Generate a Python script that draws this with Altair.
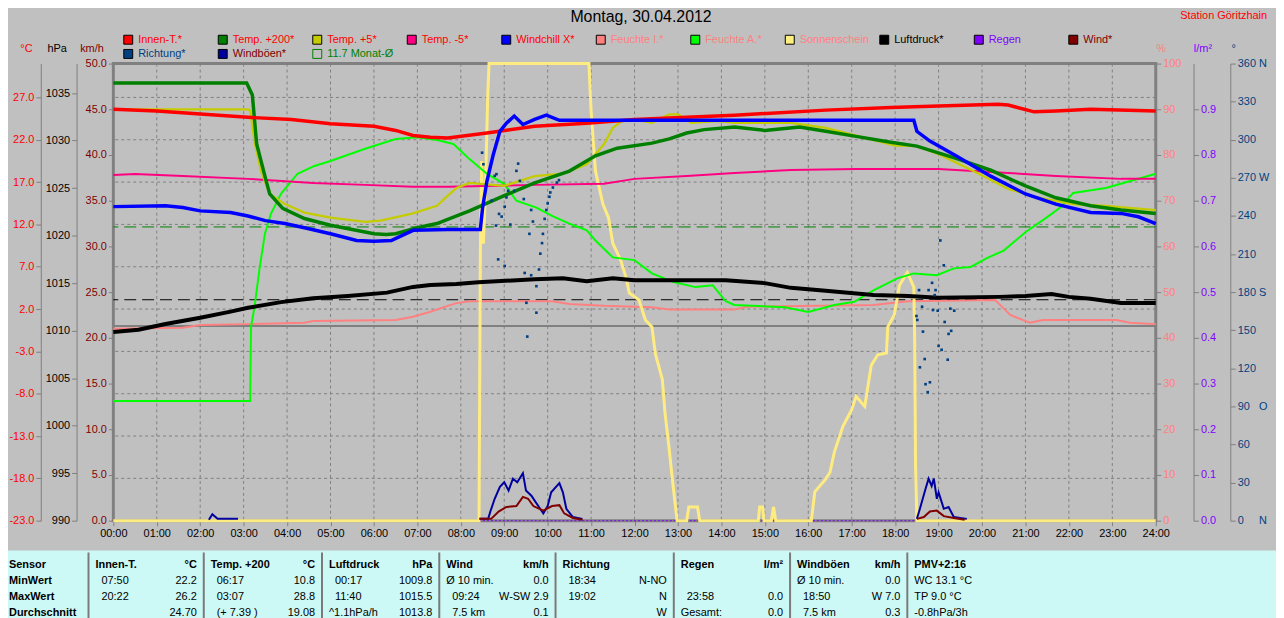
import altair as alt
import pandas as pd

FONT = "Liberation Sans"

# ------------------------------------------------------------------ data
TITLE = "Montag, 30.04.2012"
STATION = "Station Göritzhain"

HOURS = list(range(25))
C_TICKS = [-23, -18, -13, -8, -3, 2, 7, 12, 17, 22, 27]
HPA_TICKS = [990, 995, 1000, 1005, 1010, 1015, 1020, 1025, 1030, 1035]
KMH_TICKS = [0, 5, 10, 15, 20, 25, 30, 35, 40, 45, 50]
PCT_TICKS = [0, 10, 20, 30, 40, 50, 60, 70, 80, 90, 100]
RAIN_TICKS = [0.0, 0.1, 0.2, 0.3, 0.4, 0.5, 0.6, 0.7, 0.8, 0.9]
DEG_TICKS = [0, 30, 60, 90, 120, 150, 180, 210, 240, 270, 300, 330, 360]
DEG_NAMES = {0: "N", 90: "O", 180: "S", 270: "W", 360: "N"}

MONAT_MEAN = 11.7
P_NORMAL = 1013.25

innen_h = [0, 1, 2, 3.1, 4.1, 5.0, 6.0, 6.5, 6.9, 7.3, 7.7, 8.6, 9.7, 10.9, 12.0, 13.2, 14.3,
           16.4, 17.9, 19.0, 20.37, 20.6, 21.2, 21.7, 22.5, 24]
innen_v = [25.6, 25.4, 25.05, 24.65, 24.4, 23.9, 23.6, 23.1, 22.5, 22.3, 22.2, 22.8, 23.6, 23.95,
           24.4, 24.65, 24.9, 25.5, 25.8, 26.0, 26.2, 26.1, 25.3, 25.4, 25.6, 25.4]

t200_h = [0, 3.07, 3.2, 3.3, 3.5, 3.6, 3.9, 4.4, 5.0, 6.0, 6.28, 6.5, 7.0, 7.45, 8.2, 9.0, 9.7,
          10.5, 11.1, 11.6, 12.4, 12.8, 13.2, 13.6, 14.3, 15.0, 15.8, 16.4, 17.1, 17.9, 18.5,
          19.4, 20.2, 21.0, 21.7, 22.5, 23.2, 24]
t200_v = [28.7, 28.7, 27.3, 21.5, 17.5, 15.6, 13.9, 12.7, 11.9, 10.9, 10.8, 10.9, 11.6, 12.1,
          13.6, 15.4, 16.9, 18.3, 20.1, 21.0, 21.6, 22.1, 22.8, 23.2, 23.5, 23.1, 23.5, 23.0,
          22.4, 21.7, 21.25, 19.8, 18.4, 16.55, 15.15, 14.2, 13.7, 13.3]

t5_h = [0, 3.1, 3.15, 3.26, 3.4, 3.6, 3.95, 4.4, 5.0, 5.8, 6.15, 6.9, 7.45, 7.7, 7.9, 8.2, 9.0,
        9.7, 10.35, 10.9, 11.3, 11.5, 11.7, 12.0, 12.4, 12.8, 13.0, 13.3, 13.9, 14.3, 15.6, 16.4,
        17.1, 18.0, 18.5, 19.0, 19.8, 20.6, 21.3, 22.1, 22.85, 24]
t5_v = [25.6, 25.6, 25.4, 21.5, 18.3, 15.6, 14.4, 13.4, 12.8, 12.3, 12.45, 13.3, 14.2, 15.4, 16.3,
        16.9, 16.55, 17.7, 18.0, 19.1, 21.5, 23.4, 24.2, 24.4, 24.0, 25.0, 25.0, 24.0, 24.2, 24.0,
        24.0, 23.4, 22.5, 21.3, 21.25, 20.3, 18.3, 16.2, 15.15, 14.4, 14.2, 13.7]

tm5_h = [0, 0.5, 1.6, 3.1, 4.6, 5.8, 6.9, 7.7, 9.7, 11.3, 12.0, 13.2, 14.3, 15.6, 17.1, 19.0,
         20.6, 21.7, 23.2, 24]
tm5_v = [17.85, 17.96, 17.73, 17.38, 16.9, 16.67, 16.44, 16.44, 16.67, 16.8, 17.38, 17.73, 18.08,
         18.43, 18.55, 18.55, 18.08, 17.73, 17.38, 17.38]

wc_h = [0, 1.2, 1.6, 2.0, 2.7, 3.1, 3.5, 3.95, 4.4, 5.0, 5.6, 6.0, 6.4, 6.9, 7.7, 8.45, 8.5, 8.6,
        8.75, 8.9, 9.05, 9.23, 9.43, 9.7, 9.97, 10.27, 18.43, 18.5, 18.8, 19.4, 20.2, 21.0, 21.7,
        22.5, 23.2, 23.6, 24]
wc_v = [14.1, 14.2, 14.0, 13.6, 13.4, 13.0, 12.45, 12.1, 11.6, 10.9, 10.1, 10.0, 10.1, 11.3, 11.4,
        11.4, 13.9, 17.1, 20.3, 23.0, 23.95, 24.8, 23.8, 24.4, 24.9, 24.3, 24.3, 23.0, 21.85,
        20.1, 17.7, 15.6, 14.4, 13.4, 13.3, 12.9, 12.1]

p_h = [0, 0.58, 1.2, 2.0, 2.7, 3.1, 3.86, 4.6, 5.4, 6.3, 6.9, 7.3, 7.9, 8.4, 9.7, 10.35, 10.9,
       11.5, 12.0, 14.1, 15.0, 15.6, 16.4, 17.5, 18.3, 19.0, 20.4, 21.0, 21.6, 22.0, 22.5, 23.2, 24]
p_v = [1009.85, 1010.1, 1010.7, 1011.35, 1012.0, 1012.4, 1013.0, 1013.4, 1013.65, 1014.0, 1014.6,
       1014.8, 1014.9, 1015.1, 1015.4, 1015.5, 1015.2, 1015.5, 1015.3, 1015.3, 1015.0, 1014.5,
       1014.2, 1013.75, 1013.65, 1013.45, 1013.55, 1013.65, 1013.85, 1013.55, 1013.35, 1012.9,
       1012.9]

fi_h = [0, 1.6, 2.0, 3.1, 4.4, 4.6, 6.5, 6.9, 7.3, 7.7, 7.9, 8.2, 10.1, 10.5, 11.3, 12.4, 12.8,
        14.3, 14.6, 17.5, 18.3, 20.3, 20.65, 21.1, 21.4, 23.1, 23.4, 24]
fi_v = [42.0, 42.2, 42.8, 43.0, 43.3, 43.7, 43.9, 44.6, 45.7, 47.0, 47.6, 48.0, 48.0, 47.4, 47.0,
        46.7, 46.2, 46.2, 46.8, 47.2, 48.0, 48.3, 45.0, 43.3, 43.9, 43.9, 43.3, 43.0]

fa_h = [0, 3.15, 3.17, 3.25, 3.37, 3.49, 3.63, 3.86, 4.24, 4.63, 5.0, 5.78, 6.5, 7.0, 7.45, 7.83,
        8.2, 8.6, 9.0, 9.28, 9.74, 10.1, 10.5, 10.9, 11.1, 11.5, 12.0, 12.4, 12.9, 13.4, 13.8,
        14.1, 14.3, 15.46, 16.0, 16.6, 17.06, 17.3, 17.5, 18.05, 18.43, 18.96, 19.35, 19.74,
        20.1, 20.5, 21.0, 21.5, 21.8, 22.1, 22.85, 23.6, 24]
fa_v = [26.2, 26.2, 42.4, 46.7, 55.4, 62.8, 67.2, 71.5, 75.9, 77.6, 78.7, 81.3, 83.5, 83.9, 83.3,
        82.4, 79.1, 75.9, 73.7, 70.0, 68.5, 66.7, 65.0, 63.5, 61.3, 57.6, 57.0, 54.1, 52.2, 51.1,
        51.5, 48.0, 47.2, 46.7, 45.65, 47.2, 47.9, 49.3, 50.4, 53.0, 54.1, 53.7, 55.2, 55.5,
        57.4, 59.1, 63.1, 66.4, 68.5, 71.7, 72.8, 74.8, 75.9]

sun_h = [0, 8.42, 8.45, 8.48, 8.52, 8.56, 8.62, 8.65, 10.95, 11.0, 11.1, 11.27, 11.4, 11.5, 11.68,
         11.8, 11.88, 12.1, 12.25, 12.4, 12.48, 12.64, 12.7, 12.79, 12.87, 12.94, 12.98, 13.2,
         13.25, 13.45, 13.5, 14.85, 14.88, 14.95, 14.98, 15.15, 15.2, 15.25, 16.07, 16.15, 16.4,
         16.5, 16.6, 16.8, 17.0, 17.1, 17.3, 17.45, 17.6, 17.8, 17.83, 17.98, 18.1, 18.28, 18.43,
         18.45, 18.47, 18.5, 24]
sun_v = [0, 0, 59, 78.7, 60.6, 70, 93, 100, 100, 89.6, 76.5, 69.3, 66.3, 60.65, 57, 53.3, 49.8,
         48.3, 43.9, 42.4, 36.5, 30.9, 23.7, 16.3, 9.1, 3.3, 0, 0, 3, 3, 0, 0, 3, 3, 0, 0, 3, 0, 0,
         6.3, 9.1, 10.6, 15, 20.7, 24.3, 27.2, 25, 34, 36.3, 36.7, 42.4, 45, 51.5, 54.3, 51.1,
         38.9, 12, 0, 0]

rain_h = [0, 24]
rain_v = [0.0, 0.0]

wind_seg = ["a"] * 14 + ["b"] * 7
wind_h = [8.43, 8.7, 8.87, 9.05, 9.28, 9.43, 9.55, 9.67, 9.9, 10.1, 10.27, 10.38, 10.58, 10.8,
          18.5, 18.66, 18.8, 18.96, 19.12, 19.35, 19.6]
wind_v = [0.2, 0.2, 1.0, 1.5, 1.6, 2.6, 2.4, 1.6, 1.1, 1.6, 1.7, 0.8, 0.3, 0.1,
          0.2, 0.4, 1.0, 1.1, 0.5, 0.3, 0.1]

gust_seg = ["0"] * 4 + ["a"] * 22 + ["b"] * 12
gust_h = [2.2, 2.28, 2.4, 2.87,
          8.43, 8.63, 8.68, 8.78, 8.9, 9.0, 9.1, 9.2, 9.3, 9.43, 9.5, 9.63, 9.7, 9.8, 9.9, 10.0,
          10.08, 10.27, 10.35, 10.43, 10.58, 10.8,
          18.5, 18.57, 18.7, 18.77, 18.84, 18.89, 18.96, 19.0, 19.12, 19.23, 19.35, 19.65]
gust_v = [0.1, 0.7, 0.2, 0.2,
          0.2, 0.2, 1.0, 2.4, 3.7, 4.2, 3.3, 4.6, 4.2, 5.2, 3.3, 2.7, 2.2, 1.5, 0.8, 1.6,
          3.1, 4.1, 3.1, 1.3, 0.4, 0.2,
          0.2, 1.3, 3.5, 4.6, 3.8, 4.6, 2.4, 3.1, 1.3, 1.5, 0.4, 0.2]

dir_h = [8.49, 8.52, 8.71, 8.78, 8.81, 8.82, 8.86, 8.88, 8.94, 9.01, 9.01, 9.05, 9.09, 9.14, 9.23,
         9.28, 9.32, 9.36, 9.45, 9.47, 9.51, 9.53, 9.58, 9.62, 9.62, 9.66, 9.74, 9.74, 9.8, 9.83,
         9.87, 9.89, 9.93, 9.97, 10.0, 10.04, 10.06, 10.12, 10.21, 10.26,
         18.49, 18.51, 18.55, 18.57, 18.62, 18.64, 18.68, 18.7, 18.75, 18.77, 18.8, 18.85, 18.87,
         18.91, 18.93, 18.98, 19.0, 19.04, 19.07, 19.12, 19.14, 19.21, 19.23, 19.27, 19.29, 19.36]
dir_v = [289.8, 280.7, 252.0, 271.6, 232.4, 272.9, 205.8, 241.6, 239.5, 247.3, 200.6, 254.6, 259.8,
         233.2, 259.8, 275.5, 281.2, 267.6, 253.3, 195.1, 171.6, 145.0, 225.9, 244.7, 193.3, 235.6,
         184.7, 163.8, 197.8, 210.3, 218.6, 225.9, 237.7, 244.7, 249.9, 255.1, 258.5, 262.4, 266.3,
         268.2,
         161.2, 158.1, 181.6, 120.8, 168.5, 148.9, 127.3, 107.5, 101.2, 181.6, 109.0, 187.3, 165.9,
         177.6, 181.6, 165.4, 137.7, 220.7, 134.6, 201.1, 156.5, 126.8, 147.1, 167.0, 149.5, 165.4]

LEG_ROW1 = ["Innen-T.*", "Temp. +200*", "Temp. +5*", "Temp. -5*", "Windchill X*", "Feuchte I.*",
            "Feuchte A.*", "Sonnenschein", "Luftdruck*", "Regen", "Wind*"]
LEG_ROW2 = ["Richtung*", "Windböen*", "11.7 Monat-Ø"]

TAB_HEAD = ["Sensor", "Innen-T.", "Temp. +200", "Luftdruck", "Wind", "Richtung", "Regen",
            "Windböen", "PMV+2:16"]
TAB_UNIT = ["", "°C", "°C", "hPa", "km/h", "", "l/m²", "km/h", ""]
TAB_ROWS = ["MinWert", "MaxWert", "Durchschnitt"]
TAB_MIN_L = ["07:50", "06:17", "00:17", "Ø 10 min.", "18:34", "", "Ø 10 min.", "WC 13.1 °C"]
TAB_MIN_R = ["22.2", "10.8", "1009.8", "0.0", "N-NO", "", "0.0", ""]
TAB_MAX_L = ["20:22", "03:07", "11:40", "09:24", "19:02", "23:58", "18:50", "TP 9.0 °C"]
TAB_MAX_R = ["26.2", "28.8", "1015.5", "W-SW 2.9", "N", "0.0", "W 7.0", ""]
TAB_AVG_L = ["", "(+ 7.39 )", "^1.1hPa/h", "7.5 km", "", "Gesamt:", "7.5 km", "-0.8hPa/3h"]
TAB_AVG_R = ["24.70", "19.08", "1013.8", "0.1", "W", "0.0", "0.3", ""]

# ------------------------------------------------------------------ styles / layout
GRID = "#808080"
C_RED = "#ff0000"
C_HPA = "#000000"
C_KMH = "#800000"
C_PCT = "#ff8080"
C_RAIN = "#8000ff"
C_DIR = "#004080"

LEG_FILL1 = ["#ff0000", "#008000", "#c4cc00", "#ff0080", "#0000ff", "#ff8080", "#00ff00",
             "#fff080", "#000000", "#8000ff", "#800000"]
LEG_TEXT1 = [C_RED, C_RED, C_RED, C_RED, C_RED, C_PCT, C_PCT, C_PCT, "#000000", C_RAIN, C_KMH]
LEG_FILL2 = [C_DIR, "#0000a0", "transparent"]
LEG_STROKE2 = ["#000000", "#000000", "#008000"]
LEG_TEXT2 = [C_DIR, C_KMH, "#008000"]

W, H = 1049, 460
TOTAL_W, TOTAL_H = 1276, 610
PAD_L, PAD_T = 106, 54
VIEW_X0, VIEW_Y0 = 114, 62           # page position of the plot area

COL_X = [0, 89, 205, 324, 442, 559, 678, 795, 913, 1284]
ROW_Y = [566.7, 582.5, 598.8, 615.0]


def sc(domain):
    return alt.Scale(domain=domain, nice=False, zero=False)


def page_x():
    return alt.Scale(domain=[0, 1284], range=[-VIEW_X0, 1284 - VIEW_X0])


def page_y():
    return alt.Scale(domain=[0, 618], range=[-VIEW_Y0, 618 - VIEW_Y0])


X_DOM = [0, 24]
C_DOM = [-23, 31]
HPA_DOM = [990, 1038.1]
KMH_DOM = [0, 50]
PCT_DOM = [0, 100]
RAIN_DOM = [0, 1]
DEG_DOM = [0, 360]

AXC = dict(tickColor=GRID, domainColor=GRID, labelFont=FONT, titleFont=FONT, labelFontSize=11,
           titleFontSize=11, titleFontWeight="normal", titleAngle=0, titleAlign="center",
           titleBaseline="middle", grid=False, tickSize=5, labelPadding=2, labelFlush=False,
           labelOverlap=False)

ax_c = alt.Axis(orient="left", offset=73, values=C_TICKS,
                labelExpr="(datum.value < 0 ? '-' : '') + format(abs(datum.value), '.1f')",
                labelColor=C_RED, title="°C", titleColor=C_RED, titleX=-15, titleY=-15, **AXC)
ax_hpa = alt.Axis(orient="left", offset=37, values=HPA_TICKS, format="d", labelColor=C_HPA,
                  title="hPa", titleColor=C_HPA, titleX=-20, titleY=-15, **AXC)
ax_kmh = alt.Axis(orient="left", offset=0, values=KMH_TICKS, format=".1f", labelColor=C_KMH,
                  domain=False, title="km/h", titleColor=C_KMH, titleX=-22, titleY=-15, **AXC)
ax_pct = alt.Axis(orient="right", offset=0, values=PCT_TICKS, format="d", labelColor=C_PCT,
                  domain=False, title="%", titleColor=C_PCT, titleX=5, titleY=-15, **AXC)
ax_rain = alt.Axis(orient="right", offset=38, values=RAIN_TICKS, format=".1f", labelColor=C_RAIN,
                   title="l/m²", titleColor=C_RAIN, titleX=9, titleY=-15, **AXC)

NB = "\u00a0"
deg_expr = ""
for v, name in DEG_NAMES.items():
    s = str(v)
    lab = s + NB * (1 + 2 * (3 - len(s))) + name
    deg_expr += f"datum.value == {v} ? '{lab}' : "
deg_expr += "datum.label"
ax_deg = alt.Axis(orient="right", offset=75, values=DEG_TICKS, labelExpr=deg_expr,
                  labelColor=C_DIR, title="°", titleColor=C_DIR, titleX=3, titleY=-15, **AXC)

ax_time = alt.Axis(orient="bottom", values=HOURS, domain=False, title=None, labelColor="black",
                   labelExpr="(datum.value < 10 ? '0' : '') + datum.value + ':00'",
                   tickColor=GRID, tickSize=5, labelPadding=2, labelFont=FONT, labelFontSize=11,
                   grid=False, labelFlush=False, labelOverlap=False)
ax_title = alt.Axis(orient="top", labels=False, ticks=False, domain=False, grid=False,
                    title=TITLE, titleX=530.5, titleY=-47, titleFont=FONT, titleFontSize=16,
                    titleFontWeight="normal", titleColor="black", titleAlign="center",
                    titleBaseline="middle")
ax_station = alt.Axis(orient="top", labels=False, ticks=False, domain=False, grid=False,
                      title=STATION, titleX=1160.5, titleY=-48.5, titleFont=FONT,
                      titleFontSize=11, titleFontWeight="normal", titleColor=C_RED,
                      titleAlign="right", titleBaseline="middle")


def xenc(axis=None):
    return alt.X("h:Q", scale=sc(X_DOM), axis=axis)


def line(h, v, color, width, dom, yaxis=None, xaxis=None, dash=None, seg=None):
    d = {"h": h, "v": v}
    if seg is not None:
        d["seg"] = seg
    kw = dict(color=color, strokeWidth=width)
    if dash is not None:
        kw["strokeDash"] = dash
    enc = dict(x=xenc(xaxis), y=alt.Y("v:Q", scale=sc(dom), axis=yaxis))
    if seg is not None:
        enc["detail"] = "seg:N"
    return alt.Chart(pd.DataFrame(d)).mark_line(**kw).encode(**enc)


def hrule(values, dom, color, width, dash=None, yaxis=None):
    kw = dict(color=color, strokeWidth=width)
    if dash is not None:
        kw["strokeDash"] = dash
    return alt.Chart(pd.DataFrame({"v": values})).mark_rule(**kw).encode(
        y=alt.Y("v:Q", scale=sc(dom), axis=yaxis))


# grid
vgrid = alt.Chart(pd.DataFrame({"h": HOURS[1:24]})).mark_rule(
    color=GRID, strokeWidth=1, strokeDash=[3, 3]).encode(x=xenc(ax_time))
hgrid = hrule(C_TICKS[1:], C_DOM, GRID, 1, dash=[3, 3], yaxis=ax_c)
zero = hrule([0], C_DOM, GRID, 2)
monat = hrule([MONAT_MEAN], C_DOM, "#008000", 1, dash=[12, 6])
pnorm = hrule([P_NORMAL], HPA_DOM, "#000000", 1, dash=[12, 6])

rain = line(rain_h, rain_v, C_RAIN, 1, RAIN_DOM, yaxis=ax_rain, dash=[2, 2])
fi = line(fi_h, fi_v, "#ff8080", 2, PCT_DOM, yaxis=ax_pct)
sun = line(sun_h, sun_v, "#ffec80", 3, PCT_DOM)
fa = line(fa_h, fa_v, "#00ff00", 2, PCT_DOM)
pres = line(p_h, p_v, "#000000", 4, HPA_DOM, yaxis=ax_hpa)
tm5 = line(tm5_h, tm5_v, "#ff0080", 2, C_DOM, xaxis=ax_title)
t5 = line(t5_h, t5_v, "#c4cc00", 2.3, C_DOM, xaxis=ax_station)
t200 = line(t200_h, t200_v, "#008000", 3.5, C_DOM)
innen = line(innen_h, innen_v, "#ff0000", 3.5, C_DOM)
wc = line(wc_h, wc_v, "#0000ff", 3.5, C_DOM)
gust = line(gust_h, gust_v, "#0000a0", 2, KMH_DOM, seg=gust_seg)
wind = line(wind_h, wind_v, "#800000", 2, KMH_DOM, yaxis=ax_kmh, seg=wind_seg)

dirs = alt.Chart(pd.DataFrame({"h": dir_h, "v": dir_v})).mark_square(
    size=7, color=C_DIR, opacity=1).encode(
    x=xenc(), y=alt.Y("v:Q", scale=sc(DEG_DOM), axis=ax_deg))

# legend
leg_df = pd.DataFrame({
    "label": LEG_ROW1 + LEG_ROW2,
    "col": list(range(len(LEG_ROW1))) + list(range(len(LEG_ROW2))),
    "row": [0] * len(LEG_ROW1) + [1] * len(LEG_ROW2),
    "fill": LEG_FILL1 + LEG_FILL2,
    "stroke": ["#000000"] * len(LEG_ROW1) + LEG_STROKE2,
    "tcolor": LEG_TEXT1 + LEG_TEXT2,
})
leg_x = alt.X("col:Q", scale=alt.Scale(domain=[0, 10], range=[15, 966]), axis=None)
leg_y = alt.Y("row:Q", scale=alt.Scale(domain=[0, 1], range=[-24, -9.7]), axis=None)
leg_sq = alt.Chart(leg_df).mark_square(size=81, strokeWidth=1, opacity=1).encode(
    x=leg_x, y=leg_y, fill=alt.Fill("fill:N", scale=None),
    stroke=alt.Stroke("stroke:N", scale=None))
leg_tx = alt.Chart(leg_df).mark_text(align="left", baseline="middle", dx=10, font=FONT,
                                     fontSize=11).encode(
    x=leg_x, y=leg_y, text="label:N", color=alt.Color("tcolor:N", scale=None))

# table
recs = []


def add(text, x, row, bold, align):
    if text:
        recs.append(dict(t=text, x=x, y=ROW_Y[row], bold=bold, align=align))


add(TAB_HEAD[0], 9, 0, True, "left")
for r, name in enumerate(TAB_ROWS):
    add(name, 9, r + 1, True, "left")
for k in range(1, 9):
    add(TAB_HEAD[k], COL_X[k] + 7, 0, True, "left")
    add(TAB_UNIT[k], COL_X[k + 1] - 7, 0, True, "right")
    for r, (L, R) in enumerate([(TAB_MIN_L, TAB_MIN_R), (TAB_MAX_L, TAB_MAX_R),
                                (TAB_AVG_L, TAB_AVG_R)]):
        txt = L[k - 1]
        ind = 6 if (txt[:1].isdigit() or txt[:1] == "(") else 0
        add(txt, COL_X[k] + 7 + ind, r + 1, False, "left")
        add(R[k - 1], COL_X[k + 1] - 7, r + 1, False, "right")
tab_df = pd.DataFrame(recs)

tab_bg = alt.Chart(pd.DataFrame({"x0": [0], "x1": [1284], "y0": [552], "y1": [630]})).mark_rect(
    color="#ccf9f6").encode(
    x=alt.X("x0:Q", scale=page_x(), axis=None), x2="x1:Q",
    y=alt.Y("y0:Q", scale=page_y(), axis=None), y2="y1:Q")
tab_sep = alt.Chart(pd.DataFrame({"x": COL_X[1:9], "y0": [554] * 8, "y1": [630] * 8})).mark_rule(
    color="#7a7a7a", strokeWidth=2).encode(
    x=alt.X("x:Q", scale=page_x(), axis=None),
    y=alt.Y("y0:Q", scale=page_y(), axis=None), y2="y1:Q")

tab_layers = []
for bold in (True, False):
    for align in ("left", "right"):
        sub = tab_df[(tab_df["bold"] == bold) & (tab_df["align"] == align)]
        tab_layers.append(alt.Chart(sub).mark_text(
            align=align, baseline="middle", font=FONT, fontSize=11,
            fontWeight="bold" if bold else "normal", color="black").encode(
            x=alt.X("x:Q", scale=page_x(), axis=None),
            y=alt.Y("y:Q", scale=page_y(), axis=None), text="t:N"))

chart = alt.layer(
    vgrid, hgrid, zero, monat, pnorm, rain, fi, sun, fa, pres, tm5, t5, t200, innen, wc,
    gust, wind, dirs, leg_sq, leg_tx, tab_bg, tab_sep, *tab_layers
).resolve_scale(x="independent", y="independent").properties(
    width=W, height=H,
    autosize=alt.AutoSizeParams(type="none"),
    padding={"left": PAD_L, "top": PAD_T, "right": TOTAL_W - PAD_L - W,
             "bottom": TOTAL_H - PAD_T - H},
).configure(background="#c0c0c0").configure_view(stroke="#808080", strokeWidth=3)

chart.save("out.html", embed_options={"renderer": "svg", "actions": False})
